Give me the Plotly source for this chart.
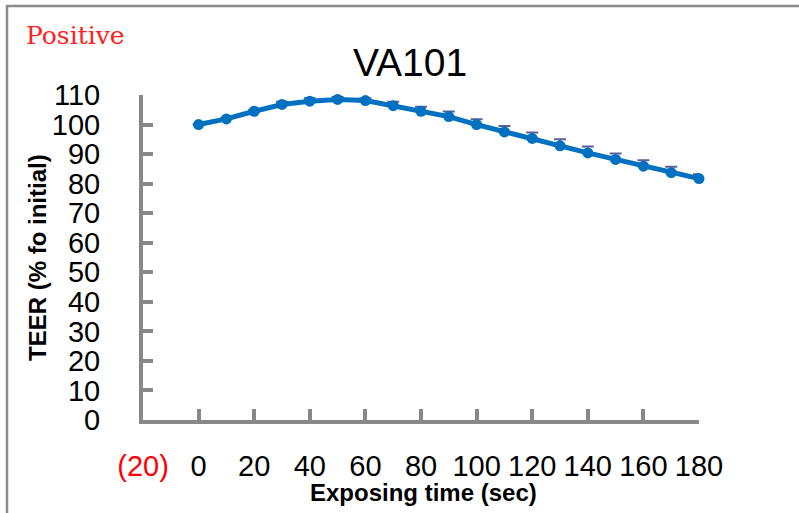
import plotly.graph_objects as go

# Data
times = [0, 10, 20, 30, 40, 50, 60, 70, 80, 90, 100, 110, 120, 130, 140, 150, 160, 170, 180]
teer = [100, 101.9, 104.5, 106.8, 107.9, 108.5, 108.1, 106.4, 104.5, 102.7,
        100.0, 97.5, 95.3, 92.8, 90.4, 88.2, 85.9, 83.7, 81.7]
err_plus = [0, 0.3, 0.5, 0.9, 1.0, 0.8, 0.8, 1.3, 1.5, 1.7,
            1.8, 2.0, 2.0, 2.2, 2.2, 2.0, 2.0, 2.0, 1.5]
err_minus = [0] * len(times)

x_tickvals = [-20, 0, 20, 40, 60, 80, 100, 120, 140, 160, 180]
x_ticktext = ['<span style="color:#ff0000">(20)</span>', "0", "20", "40", "60", "80",
              "100", "120", "140", "160", "180"]
y_tickvals = [0, 10, 20, 30, 40, 50, 60, 70, 80, 90, 100, 110]

title_text = "VA101"
tag_text = "Positive"
x_title = "Exposing time (sec)"
y_title = "TEER (% fo initial)"

FONT = "Arial, Liberation Sans, sans-serif"
AXIS_COL = "#888888"

L, R_PX, T, B_PX = 143, 699, 95, 420
W, H = 799, 513
pw, ph = R_PX - L, B_PX - T

def px(x):
    return (x - L) / pw

def py(y):
    return (B_PX - y) / ph

fig = go.Figure()
fig.add_trace(go.Scatter(
    x=times, y=teer, mode="lines+markers",
    line=dict(color="#0070C0", width=5),
    marker=dict(color="#0070C0", size=11),
    error_y=dict(type="data", array=err_plus, arrayminus=err_minus, symmetric=False,
                 color="#5f5f95", thickness=2, width=6),
    cliponaxis=False,
    showlegend=False,
))

fig.update_layout(
    width=W, height=H,
    margin=dict(l=L, r=W - R_PX, t=T, b=H - B_PX, pad=0),
    paper_bgcolor="white", plot_bgcolor="white",
    font=dict(family=FONT, color="black"),
    title=dict(text=title_text, font=dict(size=39, family=FONT, color="black"),
               x=px(410), xref="paper", xanchor="center",
               y=1 - 62 / H, yref="container", yanchor="middle"),
    xaxis=dict(range=[-20, 180], tickmode="array", tickvals=x_tickvals, ticktext=x_ticktext,
               showgrid=False, zeroline=False, showline=True, linecolor=AXIS_COL, linewidth=4,
               ticks="inside", ticklen=11, tickwidth=4, tickcolor=AXIS_COL,
               tickfont=dict(size=29, family=FONT, color="black"), ticklabelstandoff=17,
               fixedrange=True),
    yaxis=dict(range=[0, 110], tickmode="array", tickvals=y_tickvals,
               showgrid=False, zeroline=False, showline=True, linecolor=AXIS_COL, linewidth=4,
               ticks="inside", ticklen=10, tickwidth=4, tickcolor=AXIS_COL,
               tickfont=dict(size=29, family=FONT, color="black"), ticklabelstandoff=33,
               fixedrange=True),
    shapes=[dict(type="rect", xref="paper", yref="paper",
                 x0=px(7), x1=px(900), y0=py(700), y1=py(6),
                 line=dict(color="#8c8c8c", width=2.5), fillcolor="rgba(0,0,0,0)", layer="below")],
    annotations=[
        dict(text=tag_text, xref="paper", yref="paper", x=px(24), y=py(36),
             xanchor="left", yanchor="middle", showarrow=False,
             font=dict(size=25, family="DejaVu Serif, Liberation Serif, serif", color="#ff2020")),
        dict(text="<b>" + y_title + "</b>", xref="paper", yref="paper", x=px(37), y=py(258),
             xanchor="center", yanchor="middle", textangle=-90, showarrow=False,
             font=dict(size=24, family=FONT, color="black")),
        dict(text="<b>" + x_title + "</b>", xref="paper", yref="paper", x=px(423), y=py(492),
             xanchor="center", yanchor="middle", showarrow=False,
             font=dict(size=24, family=FONT, color="black")),
    ],
)

fig.write_html("out.html", config={"displayModeBar": False})
